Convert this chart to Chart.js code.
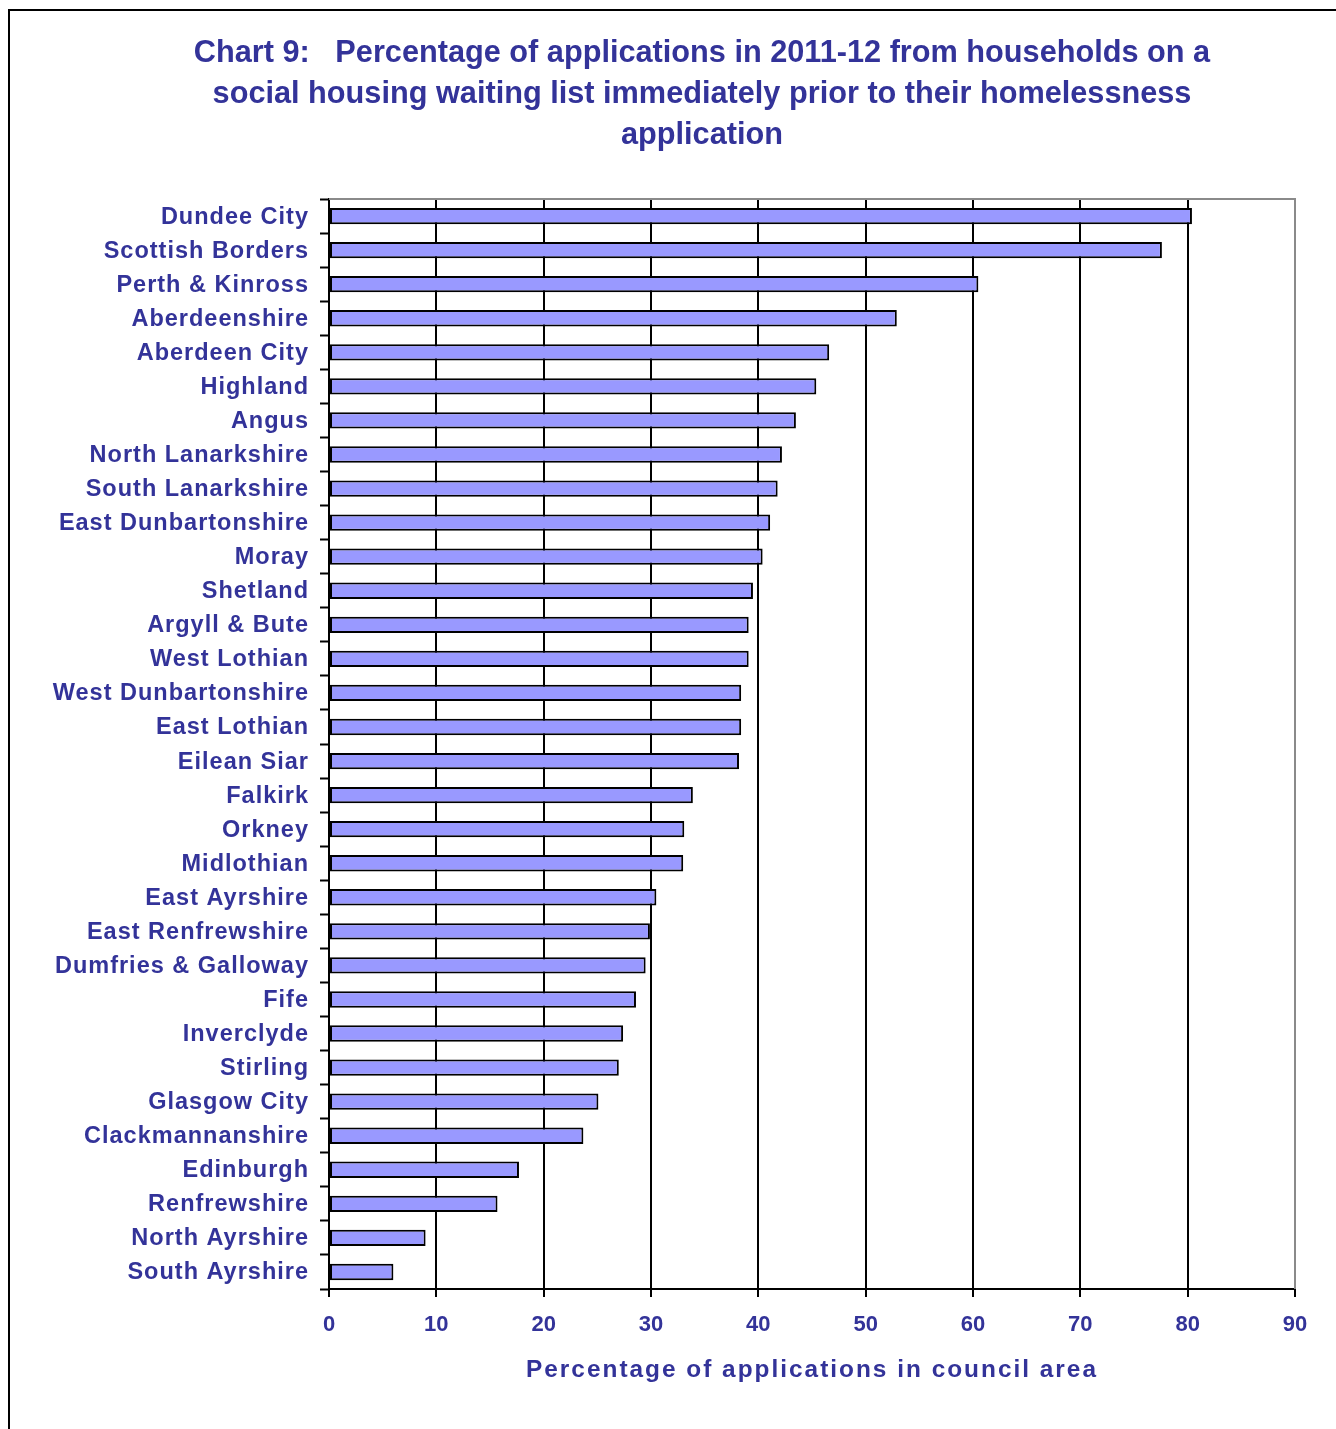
<!DOCTYPE html>
<html>
<head>
<meta charset="utf-8">
<script src="https://cdn.jsdelivr.net/npm/chart.js@4.4.1/dist/chart.umd.min.js"></script>
<style>
  html, body { margin: 0; padding: 0; background: #fff; overflow: hidden; }
  #wrap { position: relative; width: 1336px; height: 1429px; }
  #frame { position: absolute; left: 8px; top: 9px; width: 1400px; height: 1500px; border: 2px solid #000; box-sizing: border-box; }
  #chart { position: absolute; left: 0; top: 0; }
</style>
</head>
<body>
<div id="wrap">
  <div id="frame"></div>
  <canvas id="chart" width="1336" height="1429"></canvas>
</div>
<script>
const councils = ['Dundee City','Scottish Borders','Perth & Kinross','Aberdeenshire','Aberdeen City','Highland','Angus',
  'North Lanarkshire','South Lanarkshire','East Dunbartonshire','Moray','Shetland','Argyll & Bute','West Lothian',
  'West Dunbartonshire','East Lothian','Eilean Siar','Falkirk','Orkney','Midlothian','East Ayrshire','East Renfrewshire',
  'Dumfries & Galloway','Fife','Inverclyde','Stirling','Glasgow City','Clackmannanshire','Edinburgh','Renfrewshire',
  'North Ayrshire','South Ayrshire'];
const pctOnList = [80.4,77.6,60.5,52.9,46.6,45.4,43.5,42.2,41.8,41.1,40.4,39.5,39.1,39.1,38.4,38.4,38.2,33.9,33.1,33.0,
  30.5,29.9,29.5,28.6,27.4,27.0,25.1,23.7,17.7,15.7,9.0,6.0];
const xTicks = [0,10,20,30,40,50,60,70,80,90];
const titleLines = ['Chart 9:   Percentage of applications in 2011-12 from households on a',
  'social housing waiting list immediately prior to their homelessness',
  'application'];
const axisTitle = 'Percentage of applications in council area';

const navy = '#333399';
Chart.defaults.font.family = '"Liberation Sans", Arial, sans-serif';
Chart.defaults.font.weight = 'bold';
Chart.defaults.color = navy;

// letter spacing for the axis texts, and the title centred over the page block left of the labels
const textTweaks = {
  id: 'textTweaks',
  afterLayout(chart) {
    const wrap = (scale, fn, px) => {
      if (scale['_sp_' + fn]) return;
      const orig = scale[fn];
      scale[fn] = function () {
        const ctx = this.ctx;
        ctx.save(); ctx.letterSpacing = px;
        orig.apply(this, arguments);
        ctx.restore();
      };
      scale['_sp_' + fn] = true;
    };
    wrap(chart.scales.x, 'drawTitle', '2px');
    wrap(chart.scales.y, 'drawLabels', '1px');
    if (chart.titleBlock) {
      chart.titleBlock.left = 109;
      chart.titleBlock.right = chart.chartArea.right;
    }
  }
};

// grey top and right edges of the plot area
const plotFrame = {
  id: 'plotFrame',
  beforeDatasetsDraw(chart) {
    const {ctx, chartArea: a} = chart;
    ctx.save();
    ctx.strokeStyle = '#8a8a8a';
    ctx.lineWidth = 2;
    ctx.beginPath();
    ctx.moveTo(a.left, a.top);
    ctx.lineTo(a.right, a.top);
    ctx.lineTo(a.right, a.bottom);
    ctx.stroke();
    ctx.restore();
  }
};

new Chart(document.getElementById('chart'), {
  type: 'bar',
  data: {
    labels: councils,
    datasets: [{
      data: pctOnList,
      backgroundColor: '#9999ff',
      borderColor: '#000',
      borderWidth: 2,
      borderSkipped: false,
      barPercentage: 0.48,
      categoryPercentage: 1
    }]
  },
  options: {
    indexAxis: 'y',
    responsive: false,
    devicePixelRatio: 1,
    animation: false,
    layout: { padding: { left: 0, right: 41, top: 0, bottom: 0 } },
    plugins: {
      legend: { display: false },
      tooltip: { enabled: false },
      title: {
        display: true,
        text: titleLines,
        color: navy,
        font: { size: 30.7, weight: 'bold', lineHeight: 1.336 },
        padding: { top: 33, bottom: 43 }
      }
    },
    scales: {
      x: {
        min: 0, max: 90,
        afterFit: s => { s.height = 140; },
        afterBuildTicks: s => { s.ticks = xTicks.map(v => ({ value: v })); },
        ticks: { font: { size: 22 }, padding: 15, color: navy },
        grid: {
          color: c => (c.tick && c.tick.value === 90 ? '#8a8a8a' : '#000'),
          lineWidth: 2, tickLength: 8, tickColor: '#000', tickWidth: 2
        },
        border: { color: '#000', width: 2 },
        title: {
          display: true, text: axisTitle, color: navy,
          font: { size: 24.4, weight: 'bold' },
          padding: { top: 0, bottom: 44 }
        }
      },
      y: {
        afterFit: s => { s.width = 329; },
        ticks: { font: { size: 23.5 }, padding: 11, labelOffset: 1, color: navy, autoSkip: false },
        grid: {
          drawOnChartArea: false, offset: true,
          tickLength: 9, tickColor: '#000', tickWidth: 2
        },
        border: { color: '#000', width: 2 }
      }
    }
  },
  plugins: [textTweaks, plotFrame]
});
</script>
</body>
</html>
